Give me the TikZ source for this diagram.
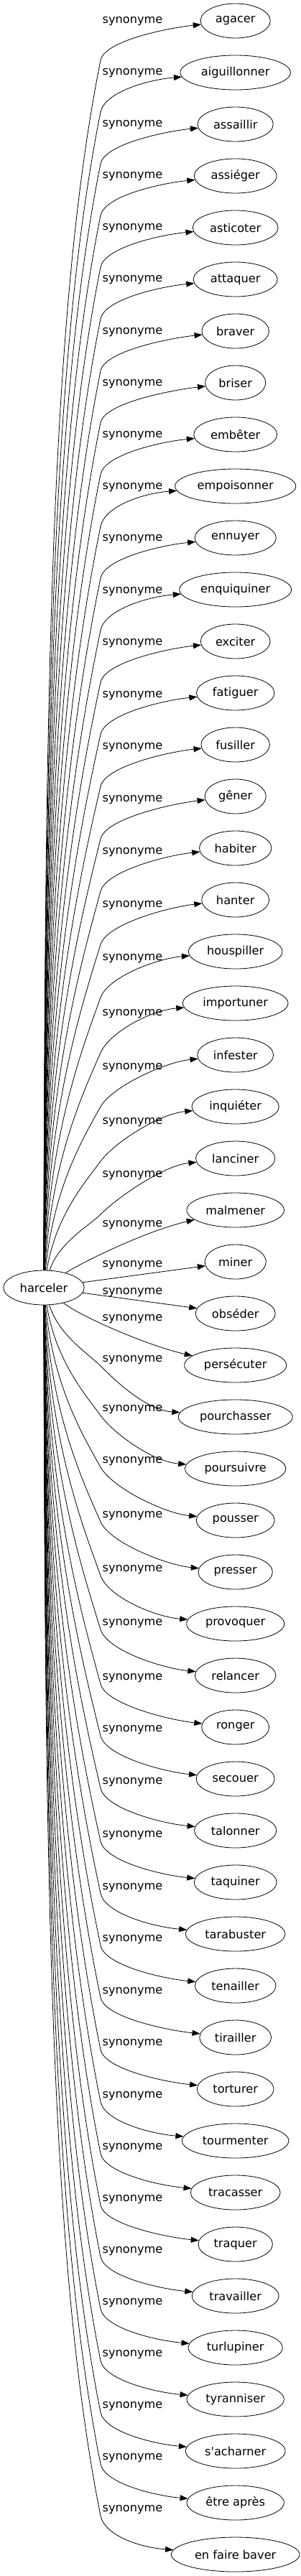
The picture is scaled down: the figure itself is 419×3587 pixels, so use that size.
\documentclass[tikz,border=0pt]{standalone}
\usepackage{fontspec}
\newfontfamily\dvs{DejaVu Sans}
\usetikzlibrary{arrows.meta,shapes.geometric,calc}
\begin{document}
\begin{tikzpicture}[x=1pt,y=-1pt,
  every node/.style={font=\dvs\fontsize{16.2}{19}\selectfont, text=black},
  word/.style={draw, ellipse, line width=0.8pt, minimum height=48pt, inner xsep=6.5pt, inner ysep=0pt},
  lbl/.style={inner sep=0pt},
  edge/.style={draw, line width=0.8pt, -{Triangle[length=11pt,width=8pt]}}]
\fill[white] (0,0) rectangle (419,3587);
\useasboundingbox (0,0) rectangle (419,3587);
\node[word] (h) at (61,1793) {harceler};
\foreach \wrd [count=\ii from 0] in {agacer,aiguillonner,assaillir,assiéger,asticoter,attaquer,braver,briser,embêter,empoisonner,ennuyer,enquiquiner,exciter,fatiguer,fusiller,gêner,habiter,hanter,houspiller,importuner,infester,inquiéter,lanciner,malmener,miner,obséder,persécuter,pourchasser,poursuivre,pousser,presser,provoquer,relancer,ronger,secouer,talonner,taquiner,tarabuster,tenailler,tirailler,torturer,tourmenter,tracasser,traquer,travailler,turlupiner,tyranniser,s'acharner,être après,en faire baver}{
  \pgfmathsetmacro\yt{29+72*\ii}
  \node[word] (n\ii) at (327.7,\yt) {\wrd};
}
% upper edges
\foreach \ii in {0,...,22}{
  \pgfmathtruncatemacro\dd{24-\ii}
  \pgfmathsetmacro\yt{29+72*\ii}
  \pgfmathsetmacro\off{{5,21,24,22,18,15,10,8,6,5,4,3.5,3,2.5,2,2,1.5,1.5,1.5,1,1,1,1,1,1}[\dd]}
  \pgfmathsetmacro\ly{\yt+\off}
  \pgfmathsetmacro\by{\ly+54}
  \pgfmathsetmacro\slp{0.2+0.8*exp(-(\dd-2)/2.5)}
  \pgfmathsetmacro\sx{62+20*exp(-(\dd-2)/4)}
  \pgfmathsetmacro\LL{1769-\by}
  \pgfmathsetmacro\ca{1769-0.5*\LL}
  \pgfmathsetmacro\cbx{140-0.2*\LL*\slp}
  \pgfmathsetmacro\cby{\by+0.2*\LL}
  \pgfmathsetmacro\kk{0.6*(\by-\yt)/(1+\slp)}
  \pgfmathsetmacro\ccx{140+\kk*\slp}
  \pgfmathsetmacro\ccy{\by-\kk}
  \node[lbl] (l\ii) at (184.5,\ly) {synonyme};
  \draw[edge] (h) .. controls (\sx,\ca) and (\cbx,\cby) .. (140,\by) .. controls (\ccx,\ccy) and ($(n\ii.west)+(-45,10)$) .. (n\ii);
}
% lower edges
\foreach \ii in {27,...,49}{
  \pgfmathtruncatemacro\dd{\ii-25}
  \pgfmathsetmacro\yt{29+72*\ii}
  \pgfmathsetmacro\off{{-29,-64,-79,-82,-82,-78,-75,-72,-68,-68,-67,-65,-64.5,-64,-63.5,-63,-62.5,-62.5,-62.5,-62.5,-62,-62,-62,-62,-62}[\dd]}
  \pgfmathsetmacro\ly{\yt+\off}
  \pgfmathsetmacro\by{\ly+8}
  \pgfmathsetmacro\slp{0.2+0.8*exp(-(\dd-2)/2.5)}
  \pgfmathsetmacro\sx{62+20*exp(-(\dd-2)/4)}
  \pgfmathsetmacro\LL{\by-1817}
  \pgfmathsetmacro\ca{1817+0.5*\LL}
  \pgfmathsetmacro\cbx{140-0.2*\LL*\slp}
  \pgfmathsetmacro\cby{\by-0.2*\LL}
  \pgfmathsetmacro\kk{0.6*(\yt-\by)/(1+\slp)}
  \pgfmathsetmacro\ccx{140+\kk*\slp}
  \pgfmathsetmacro\ccy{\by+\kk}
  \node[lbl] (l\ii) at (184.5,\ly) {synonyme};
  \draw[edge] (h) .. controls (\sx,\ca) and (\cbx,\cby) .. (140,\by) .. controls (\ccx,\ccy) and ($(n\ii.west)+(-45,-10)$) .. (n\ii);
}
% middle edges
\node[lbl] (l23) at (184.5,1706) {synonyme};
\draw[edge] (h) .. controls (110,1760) and (200,1715) .. (n23);
\node[lbl] (l24) at (184.5,1762) {synonyme};
\draw[edge] (h) -- (n24);
\node[lbl] (l25) at (184.5,1800) {synonyme};
\draw[edge] (h) -- (n25);
\node[lbl] (l26) at (184.5,1837) {synonyme};
\draw[edge] (h) .. controls (115,1835) and (210,1875) .. (n26);
\end{tikzpicture}
\end{document}
